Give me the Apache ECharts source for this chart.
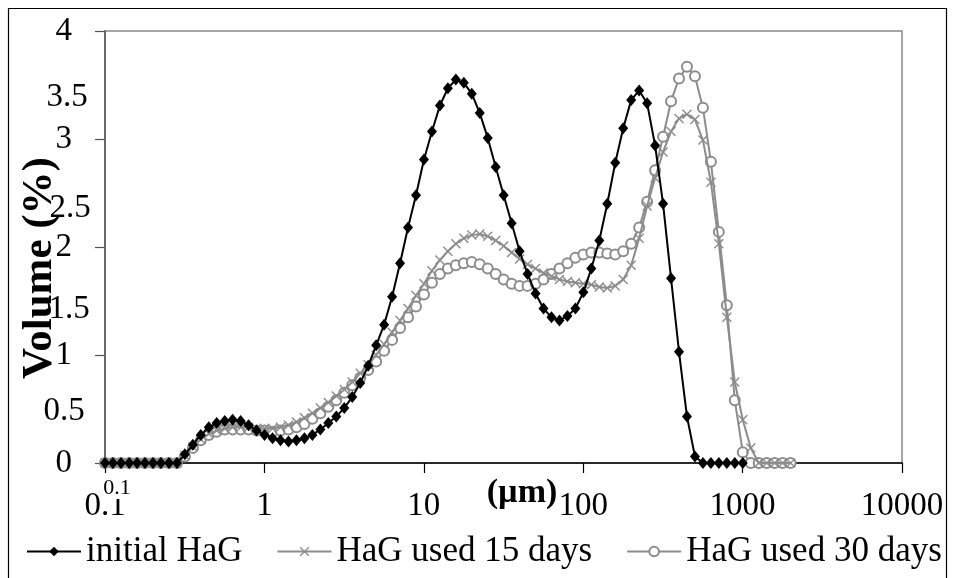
<!DOCTYPE html>
<html><head><meta charset="utf-8">
<script src="https://cdn.jsdelivr.net/npm/echarts@6/dist/echarts.min.js"></script>
<style>html,body{margin:0;padding:0;background:#fff}#c{width:954px;height:578px}</style>
</head><body><div id="c"></div>
<script>
// particle size classes (µm)
const sizes = [0.100,0.112,0.126,0.142,0.159,0.178,0.200,0.224,0.252,0.283,0.317,0.356,0.399,0.448,0.502,0.564,0.632,0.710,0.796,0.893,
1.002,1.125,1.262,1.416,1.589,1.783,2.000,2.244,2.518,2.825,3.170,3.557,3.991,4.477,5.024,5.637,6.325,7.096,7.962,8.934,
10.024,11.247,12.619,14.159,15.887,17.825,20.000,22.440,25.179,28.251,31.698,35.566,39.905,44.774,50.238,56.368,63.246,70.963,79.621,89.337,
100.237,112.468,126.191,141.589,158.866,178.250,200.000,224.404,251.785,282.508,316.979,355.656,399.052,447.744,502.377,563.677,632.456,709.627,796.214,893.367,
1002.374,1124.683,1261.915,1415.892,1588.656,1782.502,2000.000];

const initialHaG = [0,0,0,0,0,0,0,0,0,0,
0.08,0.17,0.26,0.33,0.37,0.39,0.40,0.39,0.35,0.30,
0.26,0.23,0.21,0.20,0.21,0.23,0.26,0.31,0.37,0.43,
0.51,0.61,0.74,0.90,1.09,1.28,1.54,1.85,2.18,2.48,
2.81,3.07,3.31,3.47,3.55,3.52,3.42,3.24,3.01,2.74,
2.48,2.22,1.96,1.75,1.57,1.43,1.35,1.32,1.36,1.43,
1.58,1.80,2.06,2.40,2.78,3.10,3.36,3.45,3.33,2.94,
2.40,1.71,1.03,0.43,0.06,0,0,0,0,0,0];

const used15 = [0,0,0,0,0,0,0,0,0,0,
0.07,0.15,0.22,0.27,0.30,0.32,0.33,0.33,0.33,0.32,
0.32,0.32,0.33,0.35,0.38,0.42,0.46,0.51,0.56,0.62,
0.68,0.75,0.83,0.91,1.00,1.10,1.21,1.32,1.43,1.55,
1.66,1.78,1.88,1.96,2.03,2.08,2.11,2.12,2.10,2.06,
2.01,1.95,1.89,1.84,1.80,1.76,1.73,1.70,1.68,1.67,
1.66,1.65,1.63,1.62,1.64,1.70,1.83,2.08,2.38,2.64,
2.88,3.07,3.19,3.23,3.18,2.99,2.60,2.03,1.35,0.75,
0.40,0.14,0,0,0,0,0];

const used30 = [0,0,0,0,0,0,0,0,0,0,
0.06,0.14,0.21,0.26,0.29,0.31,0.31,0.31,0.31,0.30,
0.30,0.29,0.30,0.31,0.33,0.36,0.41,0.46,0.52,0.58,
0.65,0.72,0.79,0.86,0.94,1.04,1.14,1.25,1.35,1.45,
1.56,1.67,1.75,1.80,1.83,1.85,1.86,1.84,1.80,1.75,
1.70,1.66,1.64,1.64,1.66,1.70,1.75,1.80,1.85,1.90,
1.93,1.95,1.95,1.94,1.93,1.96,2.03,2.18,2.42,2.71,
3.02,3.35,3.56,3.67,3.58,3.29,2.79,2.14,1.46,0.58,
0.10,0,0,0,0,0,0];

const seriesNames = ['initial HaG','HaG used 15 days','HaG used 30 days'];
const xTickLabels = ['0.1','1','10','100','1000','10000'];
const yHalfLabels = ['3.5','2.5','1.5','0.5'];
const yTitle = 'Volume (%)';
const xTitle = '(µm)';

const FONT = 'Liberation Serif';
const GREY = '#8c8c8c';
function pairs(vals){ return vals.map((v,i)=>[sizes[i], v]); }
const crossPath = 'path://M0,1 L1,0 L5,4 L9,0 L10,1 L6,5 L10,9 L9,10 L5,6 L1,10 L0,9 L4,5 Z';

const chart = echarts.init(document.getElementById('c'), null, {renderer:'canvas'});
const halfPos = [[67,97],[70,208],[69,309],[64,411]];
const graphics = [
  {type:'rect', shape:{x:8.5,y:8.5,width:938,height:580}, style:{fill:'none',stroke:'#000',lineWidth:1.2}, z:0},
  {type:'text', x:522, y:493, style:{text:xTitle, font:'bold 34px "'+FONT+'"', fill:'#000', textAlign:'center', textVerticalAlign:'middle'}, z:10},
  {type:'text', x:117, y:488, style:{text:xTickLabels[0], font:'22px "'+FONT+'"', fill:'#000', textAlign:'center', textVerticalAlign:'middle', backgroundColor:'#fff'}, z:10},
  {type:'text', x:40, y:268, rotation:Math.PI/2, style:{text:yTitle, font:'bold 43px "'+FONT+'"', fill:'#000', textAlign:'center', textVerticalAlign:'middle'}, z:10}
];
yHalfLabels.forEach((t,i)=>{
  graphics.push({type:'text', x:halfPos[i][0], y:halfPos[i][1], style:{text:t, font:'33px "'+FONT+'"', fill:'#000', textAlign:'center', textVerticalAlign:'middle'}, z:10});
});

chart.setOption({
  animation:false,
  backgroundColor:'#fff',
  textStyle:{fontFamily:FONT},
  grid:{left:105, right:52, top:31, bottom:115, show:true, borderColor:'#8a8a8a', borderWidth:1.5, backgroundColor:'transparent'},
  xAxis:{type:'log', min:0.1, max:10000, logBase:10,
    axisLine:{lineStyle:{color:'#000', width:1.5}},
    axisTick:{show:true, length:10, inside:false, lineStyle:{color:'#000', width:1.2}},
    splitLine:{show:false},
    axisLabel:{fontSize:33, color:'#000', fontFamily:FONT, margin:27,
      formatter:(v)=>{ const idx = Math.round(Math.log10(v))+1; return xTickLabels[idx] ?? ''; }}
  },
  yAxis:{type:'value', min:0, max:4, interval:1,
    axisLine:{show:true, lineStyle:{color:'#555', width:1.5}},
    axisTick:{show:true, length:10, lineStyle:{color:'#555', width:1.2}},
    splitLine:{show:false},
    axisLabel:{fontSize:33, color:'#000', fontFamily:FONT, margin:33}
  },
  legend:{left:26, top:534, padding:0, itemWidth:54, itemHeight:12, itemGap:34,
    data:seriesNames, textStyle:{fontSize:35, color:'#000', fontFamily:FONT}},
  graphic:graphics,
  series:[
    {name:seriesNames[2], type:'line', data:pairs(used30), symbol:'emptyCircle', symbolSize:10,
      lineStyle:{color:GREY, width:2}, itemStyle:{color:GREY, borderColor:GREY, borderWidth:1.8}, z:2},
    {name:seriesNames[1], type:'line', data:pairs(used15), symbol:crossPath, symbolSize:10,
      lineStyle:{color:GREY, width:2}, itemStyle:{color:GREY}, z:3},
    {name:seriesNames[0], type:'line', data:pairs(initialHaG), symbol:'diamond', symbolSize:[10,12],
      lineStyle:{color:'#000', width:2}, itemStyle:{color:'#000'}, z:4}
  ]
});
</script></body></html>
